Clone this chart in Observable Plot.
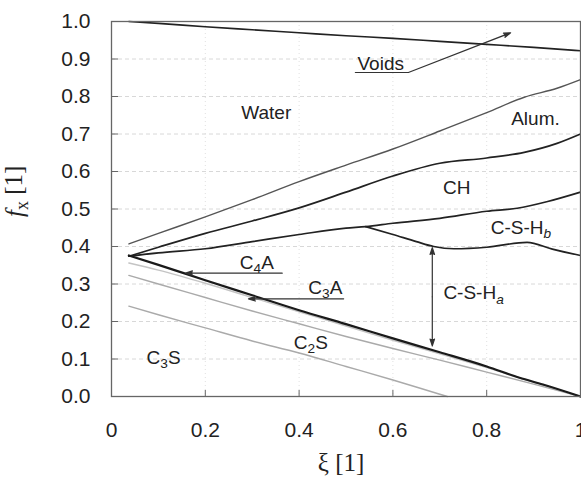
<!DOCTYPE html>
<html><head><meta charset="utf-8">
<script src="https://cdn.jsdelivr.net/npm/d3@7"></script>
<script src="https://cdn.jsdelivr.net/npm/@observablehq/plot@0.6"></script>
<style>body{margin:0;background:#fff}</style>
</head><body><div id="chart"></div>
<script>
// Boundary curves: xi (hydration degree) and cumulative volume fraction f_x
const voidsTopXi = [0.037, 0.1, 0.2, 0.3, 0.4, 0.5, 0.6, 0.7, 0.8, 0.9, 1.0];
const voidsTopF  = [1.0, 0.995, 0.986, 0.978, 0.970, 0.962, 0.955, 0.947, 0.939, 0.931, 0.922];

const waterBotXi = [0.037, 0.1, 0.2, 0.3, 0.4, 0.5, 0.6, 0.7, 0.8, 0.88, 0.95, 1.0];
const waterBotF  = [0.407, 0.435, 0.479, 0.525, 0.573, 0.617, 0.660, 0.708, 0.757, 0.798, 0.822, 0.845];

const chTopXi = [0.037, 0.1, 0.2, 0.3, 0.4, 0.5, 0.6, 0.7, 0.8, 0.88, 0.95, 1.0];
const chTopF  = [0.374, 0.398, 0.435, 0.468, 0.503, 0.545, 0.588, 0.622, 0.636, 0.651, 0.675, 0.700];

const cshbTopXi = [0.037, 0.1, 0.2, 0.3, 0.4, 0.5, 0.542, 0.6, 0.7, 0.8, 0.865, 0.93, 1.0];
const cshbTopF  = [0.374, 0.383, 0.394, 0.413, 0.432, 0.449, 0.453, 0.462, 0.475, 0.494, 0.502, 0.520, 0.545];

const cshbBotXi = [0.542, 0.6, 0.65, 0.687, 0.73, 0.8, 0.886, 0.94, 1.0];
const cshbBotF  = [0.453, 0.432, 0.413, 0.400, 0.394, 0.398, 0.411, 0.393, 0.376];

const clinkerTopXi = [0.037, 0.1, 0.2, 0.3, 0.4, 0.5, 0.6, 0.7, 0.8, 0.87, 0.92, 1.0];
const clinkerTopF  = [0.376, 0.351, 0.310, 0.270, 0.230, 0.193, 0.155, 0.118, 0.080, 0.050, 0.032, 0.0];

const c3aTopXi = [0.037, 0.1, 0.2, 0.3, 0.4, 0.5, 0.6, 0.7, 0.8, 0.9, 1.0];
const c3aTopF  = [0.356, 0.337, 0.302, 0.264, 0.226, 0.188, 0.150, 0.114, 0.077, 0.038, 0.0];

const c2sTopXi = [0.037, 0.1, 0.2, 0.3, 0.4, 0.5, 0.6, 0.7, 0.8, 0.9, 1.0];
const c2sTopF  = [0.323, 0.300, 0.264, 0.228, 0.194, 0.160, 0.128, 0.097, 0.065, 0.033, 0.0];

const c3sTopXi = [0.037, 0.1, 0.2, 0.3, 0.4, 0.5, 0.6, 0.7, 0.716];
const c3sTopF  = [0.241, 0.218, 0.183, 0.148, 0.116, 0.080, 0.044, 0.006, 0.0];

// Tick values
const xTicks = [0, 0.2, 0.4, 0.6, 0.8, 1];
const yTicks = [0, 0.1, 0.2, 0.3, 0.4, 0.5, 0.6, 0.7, 0.8, 0.9, 1.0];

// Region labels (markup: _{..} subscript, _/{..} italic subscript)
const labelText = ["Water", "Voids", "Alum.", "CH", "C-S-H_/{b}", "C-S-H_/{a}", "C_{4}A", "C_{3}A", "C_{2}S", "C_{3}S"];
const labelXi   = [0.33, 0.574, 0.904, 0.736, 0.873, 0.772, 0.31, 0.456, 0.425, 0.111];
const labelF    = [0.757, 0.887, 0.741, 0.557, 0.450, 0.275, 0.357, 0.290, 0.144, 0.104];

// Annotation leaders
const leaderX1 = [0.364, 0.495, 0.633, 0.684, 0.684];
const leaderY1 = [0.329, 0.2605, 0.864, 0.266, 0.266];
const leaderX2 = [0.158, 0.292, 0.851, 0.684, 0.684];
const leaderY2 = [0.329, 0.2605, 0.970, 0.397, 0.135];
const voidsUnderlineXi = [0.52, 0.633];
const voidsUnderlineF  = [0.864, 0.864];

const series = (name, xs, ys) => xs.map((x, i) => ({name, xi: x, f: ys[i]}));
const lineStyles = [
  [series("voids", voidsTopXi, voidsTopF), "#222", 1.6],
  [series("water", waterBotXi, waterBotF), "#555", 1.4],
  [series("ch", chTopXi, chTopF), "#222", 1.7],
  [series("cshbTop", cshbTopXi, cshbTopF), "#222", 1.7],
  [series("cshbBot", cshbBotXi, cshbBotF), "#222", 1.7],
  [series("c3s", c3sTopXi, c3sTopF), "#aaa", 1.4],
  [series("c2s", c2sTopXi, c2sTopF), "#aaa", 1.4],
  [series("c3a", c3aTopXi, c3aTopF), "#c4c4c4", 1.4],
  [series("clinker", clinkerTopXi, clinkerTopF), "#1a1a1a", 2.2]
];

const labels = labelText.map((t, i) => ({t, x: labelXi[i], y: labelF[i]}));
const leaders = leaderX1.map((x, i) => ({x1: x, y1: leaderY1[i], x2: leaderX2[i], y2: leaderY2[i]}));
const underline = voidsUnderlineXi.map((x, i) => ({x, y: voidsUnderlineF[i]}));

const chart = Plot.plot({
  width: 581, height: 480,
  marginLeft: 111, marginRight: 1, marginTop: 21, marginBottom: 84,
  x: {domain: [0, 1]},
  y: {domain: [0, 1]},
  style: {fontFamily: "'Liberation Sans', Arial, sans-serif", fontSize: "21px", color: "#222", background: "#fff"},
  marks: [
    Plot.gridY(yTicks.slice(1, -1), {stroke: "#d8d8d8", strokeOpacity: 1, strokeDasharray: "4,3"}),
    Plot.gridX(xTicks.slice(1, -1), {stroke: "#e0e0e0", strokeOpacity: 1, strokeDasharray: "1,3"}),
    ...lineStyles.map(([d, c, w]) => Plot.line(d, {x: "xi", y: "f", stroke: c, strokeWidth: w, curve: "monotone-x"})),
    Plot.frame({stroke: "#666", strokeWidth: 1.3}),
    Plot.axisY(yTicks, {tickSize: -7, tickPadding: 28, tickFormat: d => d.toFixed(1), label: null, stroke: "#666"}),
    Plot.axisX(xTicks, {tickSize: -6, tickPadding: 32, tickFormat: d3.format("~g"), label: null, stroke: "#666"}),
    Plot.line(underline, {x: "x", y: "y", stroke: "#333", strokeWidth: 1.2}),
    Plot.arrow(leaders, {x1: "x1", y1: "y1", x2: "x2", y2: "y2", stroke: "#333", fill: "#333", strokeWidth: 1.2, headLength: 9, headAngle: 36}),
    Plot.text(labels, {x: "x", y: "y", text: "t", fontSize: 19, fill: "#222"}),
    Plot.text(["*f*_{x} [1]"], {frameAnchor: "left", dx: -97, dy: 8, rotate: -90, fontSize: 25, fontFamily: "'Liberation Serif', 'Times New Roman', serif", fill: "#222"}),
    Plot.text(["ξ [1]"], {frameAnchor: "bottom", dx: -5, dy: 74, fontSize: 25, fontFamily: "'Liberation Serif', 'Times New Roman', serif", fill: "#222"})
  ]
});

// Rich text: subscripts and italics
d3.select(chart).selectAll("text").each(function() {
  const s = this.textContent;
  if (!/_|\*/.test(s)) return;
  const parts = s.split(/(_\/\{[^}]*\}|_\{[^}]*\}|\*[^*]*\*)/).filter(p => p !== "");
  const el = d3.select(this);
  el.text(null);
  let shifted = false;
  for (const p of parts) {
    let m;
    if ((m = p.match(/^_\/\{(.*)\}$/))) {
      el.append("tspan").attr("dy", "0.3em").attr("font-size", "72%").attr("font-style", "italic").text(m[1]);
      shifted = true;
    } else if ((m = p.match(/^_\{(.*)\}$/))) {
      el.append("tspan").attr("dy", "0.3em").attr("font-size", "72%").text(m[1]);
      shifted = true;
    } else if ((m = p.match(/^\*(.*)\*$/))) {
      const t = el.append("tspan").attr("font-style", "italic").text(m[1]);
      if (shifted) { t.attr("dy", "-0.22em"); shifted = false; }
    } else {
      const t = el.append("tspan").text(p);
      if (shifted) { t.attr("dy", "-0.22em"); shifted = false; }
    }
  }
});

document.getElementById("chart").appendChild(chart);
</script>
</body></html>
